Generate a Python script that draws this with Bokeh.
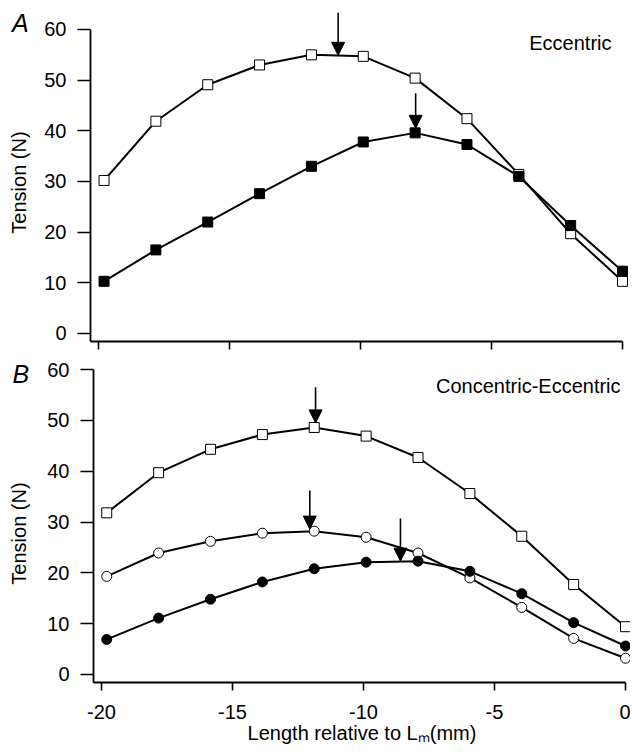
import math
from bokeh.plotting import figure
from bokeh.models import Range1d, FixedTicker, Label, Arrow, NormalHead, ColumnDataSource, CustomJSTickFormatter
from bokeh.layouts import column, row
from bokeh.embed import file_html
from bokeh.resources import INLINE

# ---- data ----
length_mm = [-19.8, -17.82, -15.84, -13.86, -11.88, -9.9, -7.92, -5.94, -3.96, -1.98, 0.0]

# Panel A: Eccentric
a_open_sq = [30.2, 41.9, 49.1, 53.0, 55.0, 54.7, 50.4, 42.4, 31.4, 19.7, 10.3]
a_filled_sq = [10.3, 16.5, 22.0, 27.6, 33.0, 37.8, 39.6, 37.3, 31.0, 21.3, 12.3]

# Panel B: Concentric-Eccentric
b_open_sq = [31.8, 39.7, 44.3, 47.2, 48.6, 46.9, 42.7, 35.6, 27.2, 17.7, 9.4]
b_open_circ = [19.3, 23.9, 26.2, 27.8, 28.2, 27.0, 23.9, 19.0, 13.2, 7.1, 3.2]
b_filled_circ = [6.9, 11.1, 14.8, 18.2, 20.8, 22.1, 22.3, 20.3, 15.9, 10.2, 5.6]

# Peak arrows
a_arrow_x = [-10.86, -7.9]
a_arrow_top = [63.3, 47.4]
a_arrow_tip = [54.9, 40.5]
b_arrow_x = [-11.83, -12.05, -8.59]
b_arrow_top = [56.5, 36.2, 30.7]
b_arrow_tip = [49.5, 28.6, 22.3]

x_ticks = [-20, -15, -10, -5, 0]
y_ticks = [0, 10, 20, 30, 40, 50, 60]

FONT = "Liberation Sans"
FS = "20px"
STRIP_W = 40


def make_fig(left, fw, fh, top, bottom, xr, yr):
    p = figure(frame_width=fw, frame_height=fh,
               x_range=Range1d(*xr), y_range=Range1d(*yr),
               output_backend="svg", toolbar_location=None,
               min_border_left=left, min_border_right=0,
               min_border_top=top, min_border_bottom=bottom)
    p.title = None
    p.grid.visible = False
    p.outline_line_color = None
    p.background_fill_color = "white"
    p.border_fill_color = "white"
    for ax in (p.xaxis[0], p.yaxis[0]):
        ax.axis_line_width = 1.8
        ax.axis_line_color = "black"
        ax.major_tick_line_width = 1.6
        ax.major_tick_line_color = "black"
        ax.major_tick_in = 0
        ax.minor_tick_in = 0
        ax.minor_tick_out = 0
        ax.major_label_text_font = FONT
        ax.major_label_text_font_size = FS
        ax.major_label_text_color = "black"
        ax.axis_label_text_font = FONT
        ax.axis_label_text_font_size = FS
        ax.axis_label_text_font_style = "normal"
        ax.axis_label_text_color = "black"
    p.xaxis.ticker = FixedTicker(ticks=x_ticks)
    p.yaxis.ticker = FixedTicker(ticks=y_ticks)
    p.xaxis.major_tick_out = 8
    p.yaxis.major_tick_out = 13
    p.xaxis.major_label_standoff = 14
    p.yaxis.major_label_standoff = 11
    p.xaxis.bounds = (xr[0], 0)
    p.yaxis.bounds = (yr[0], 60)
    return p


def strip(height, panel_letter, letter_x, letter_y, ylabel_x, ylabel_y):
    s = figure(frame_width=STRIP_W, frame_height=height,
               x_range=Range1d(0, STRIP_W), y_range=Range1d(height, 0),
               x_axis_type=None, y_axis_type=None,
               output_backend="svg", toolbar_location=None,
               min_border=0, min_border_left=0, min_border_right=0,
               min_border_top=0, min_border_bottom=0)
    s.title = None
    s.grid.visible = False
    s.outline_line_color = None
    s.add_layout(Label(x=letter_x, y=letter_y, text=panel_letter, text_font=FONT,
                       text_font_size="25px", text_font_style="italic", text_color="black",
                       text_align="left", text_baseline="alphabetic"))
    s.add_layout(Label(x=ylabel_x, y=ylabel_y, text="Tension (N)", text_font=FONT,
                       text_font_size=FS, text_color="black", angle=math.pi / 2,
                       text_align="center", text_baseline="middle"))
    return s


def series(p, ys, marker, fill):
    p.line(length_mm, ys, line_color="black", line_width=2)
    p.scatter(length_mm, ys, marker=marker, size=10, fill_color=fill,
              line_color="black", line_width=1)


def arrows(p, xs, tops, tips):
    src = ColumnDataSource(dict(x=xs, y0=tops, y1=tips))
    p.add_layout(Arrow(x_start="x", y_start="y0", x_end="x", y_end="y1", source=src,
                       line_width=1.6, line_color="black",
                       end=NormalHead(size=13, fill_color="black", line_color="black", line_width=1)))


# ---- Panel A ----
pA = make_fig(90 - STRIP_W, 538, 331, 10, 12, (-20.317, 0.229), (-1.579, 63.75))
pA.xaxis.formatter = CustomJSTickFormatter(code="return ''")
pA.xaxis.major_label_standoff = 0
series(pA, a_open_sq, "square", "white")
series(pA, a_filled_sq, "square", "black")
arrows(pA, a_arrow_x, a_arrow_top, a_arrow_tip)
pA.add_layout(Label(x=-0.42, y=57.4, text="Eccentric", text_align="right", text_baseline="middle",
                    text_font=FONT, text_font_size=FS, text_color="black"))
sA = strip(353, "A", 11.5, 12, 18.5, 172)

# ---- Panel B ----
pB = make_fig(93 - STRIP_W, 537, 320, 9, 66, (-20.305, 0.19), (-1.574, 61.38))
pB.xaxis.major_label_overrides = {t: str(t) for t in x_ticks}
pB.xaxis.axis_label = "Length relative to L\u2098(mm)"
pB.xaxis.axis_label_standoff = 0
series(pB, b_open_sq, "square", "white")
series(pB, b_open_circ, "circle", "white")
series(pB, b_filled_circ, "circle", "black")
arrows(pB, b_arrow_x, b_arrow_top, b_arrow_tip)
pB.add_layout(Label(x=-0.19, y=56.85, text="Concentric-Eccentric", text_align="right", text_baseline="middle",
                    text_font=FONT, text_font_size=FS, text_color="black"))
sB = strip(395, "B", 12, 11.7, 18.5, 171)

layout = column(row(sA, pA, spacing=0), row(sB, pB, spacing=0), spacing=0)
open("out.html", "w").write(file_html(layout, INLINE))
